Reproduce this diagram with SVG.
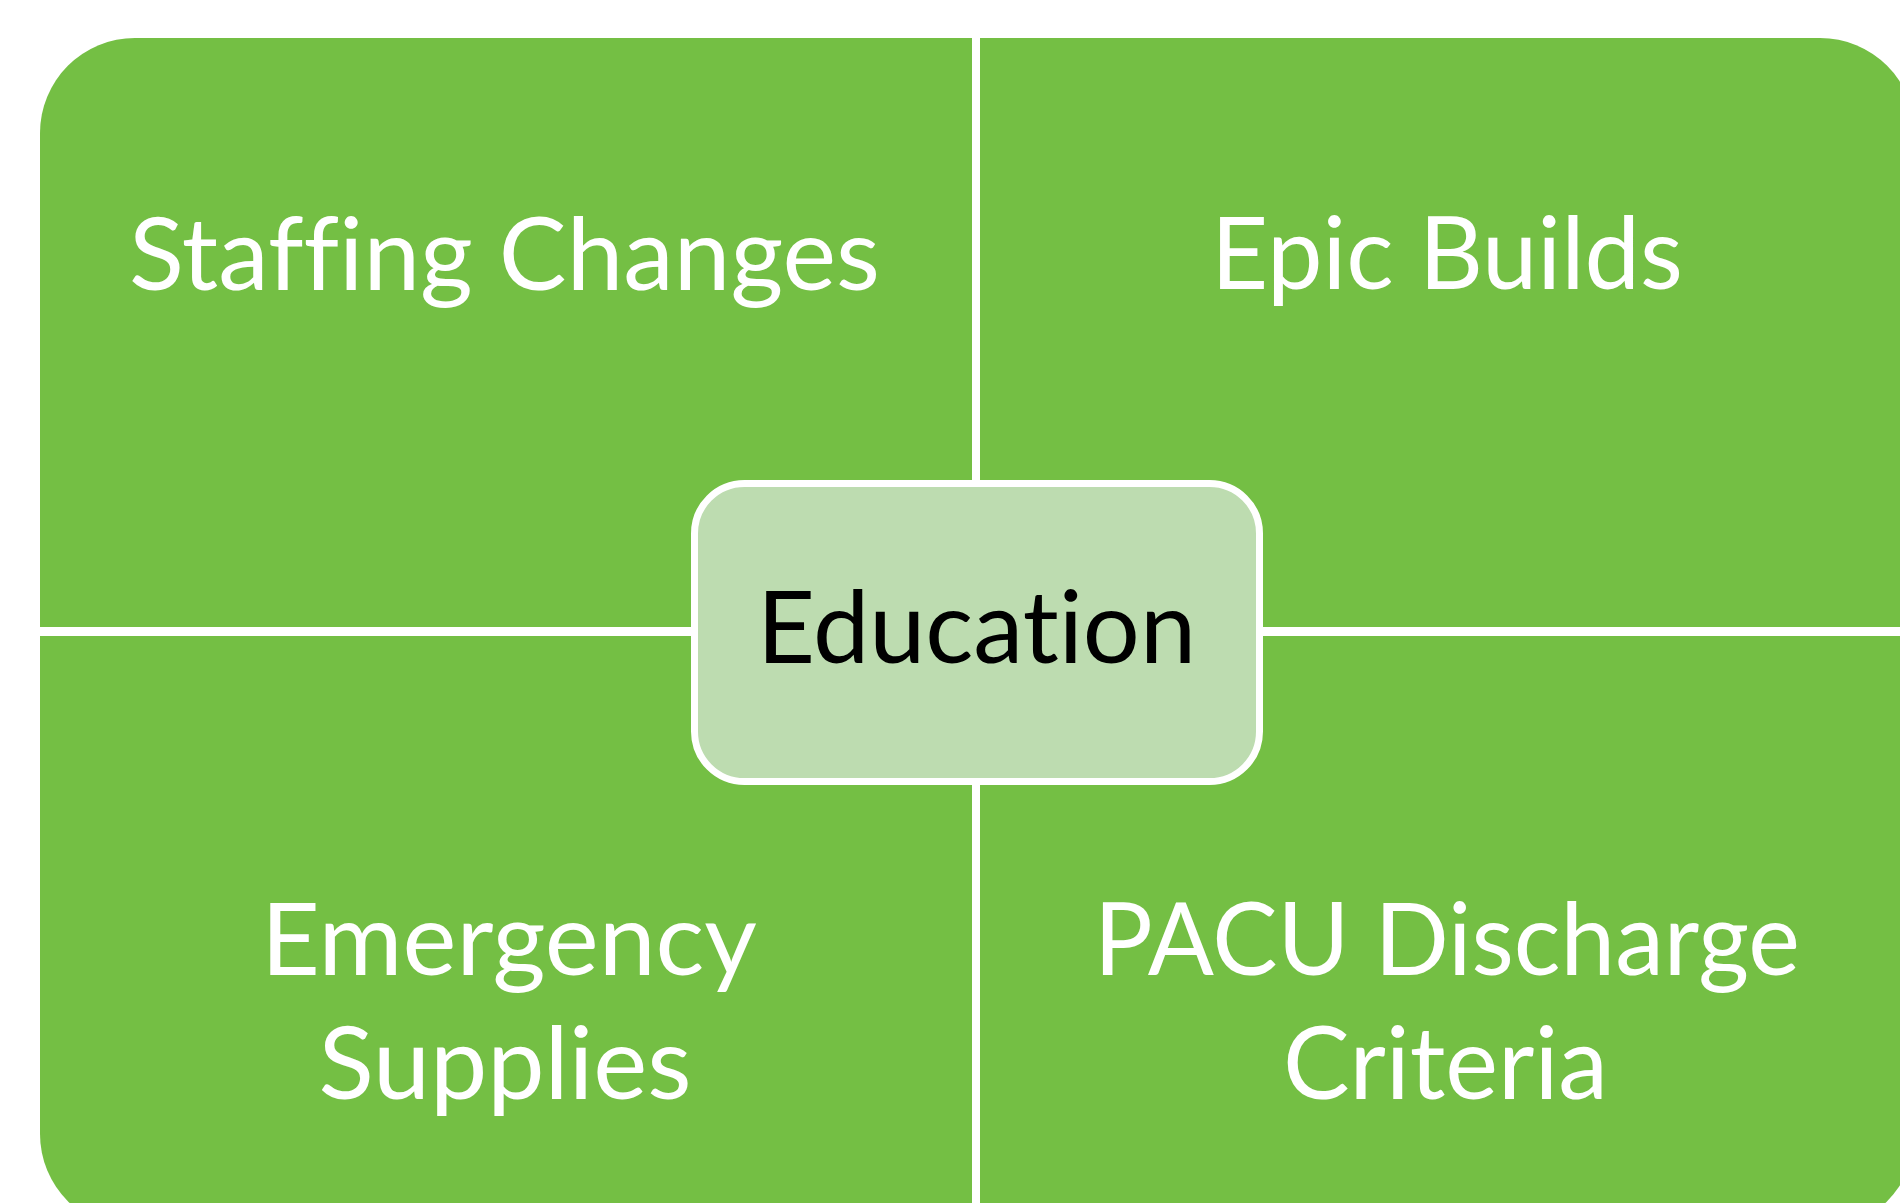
<svg xmlns="http://www.w3.org/2000/svg" width="1900" height="1203" viewBox="0 0 1900 1203">
  <style>
    .quad { fill: #74BF44; }
    .qt { font-family: Lato, "Liberation Sans", sans-serif; font-size: 101px; fill: #FFFFFF; text-anchor: middle; font-variant-ligatures: none; font-feature-settings: "liga" 0, "clig" 0; }
    .ct { font-family: Lato, "Liberation Sans", sans-serif; font-size: 101px; fill: #000000; text-anchor: middle; font-variant-ligatures: none; font-feature-settings: "liga" 0, "clig" 0; }
    .center { fill: #BDDCB0; stroke: #FFFFFF; stroke-width: 7; }
  </style>
  <rect x="0" y="0" width="1900" height="1203" fill="#FFFFFF"/>
  <g id="staffing-changes">
    <path class="quad" d="M40,133 A95,95 0 0 1 135,38 L972,38 L972,627 L40,627 Z"/>
    <text class="qt" x="504.5" y="290" textLength="751" lengthAdjust="spacingAndGlyphs">Staffing Changes</text>
  </g>
  <g id="epic-builds">
    <path class="quad" d="M980,38 L1820,38 A95,95 0 0 1 1915,133 L1915,627 L980,627 Z"/>
    <text class="qt" x="1447" y="289" textLength="472" lengthAdjust="spacingAndGlyphs">Epic Builds</text>
  </g>
  <g id="emergency-supplies">
    <path class="quad" d="M40,636 L972,636 L972,1229 L135,1229 A95,95 0 0 1 40,1134 Z"/>
    <text class="qt" x="509" y="975" textLength="496" lengthAdjust="spacingAndGlyphs">Emergency</text>
    <text class="qt" x="505" y="1099" textLength="373" lengthAdjust="spacingAndGlyphs">Supplies</text>
  </g>
  <g id="pacu-discharge-criteria">
    <path class="quad" d="M980,636 L1915,636 L1915,1134 A95,95 0 0 1 1820,1229 L980,1229 Z"/>
    <text class="qt" x="1447" y="975" textLength="706" lengthAdjust="spacingAndGlyphs">PACU Discharge</text>
    <text class="qt" x="1445.5" y="1099" textLength="325" lengthAdjust="spacingAndGlyphs">Criteria</text>
  </g>
  <g id="connectors"></g>
  <g id="education">
    <rect class="center" x="694.5" y="483.5" width="565" height="298" rx="50" ry="50"/>
    <text class="ct" x="976.5" y="663" textLength="439" lengthAdjust="spacingAndGlyphs">Education</text>
  </g>
</svg>
